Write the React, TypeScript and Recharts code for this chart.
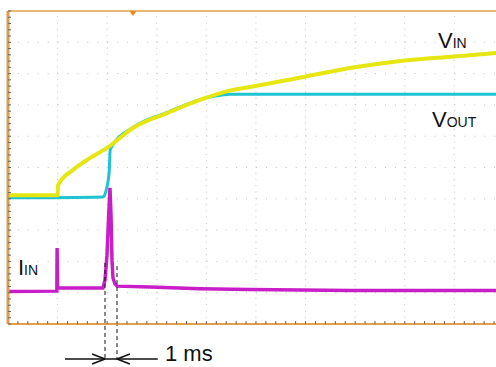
import { ComposedChart, Line, XAxis, YAxis, ReferenceLine, ReferenceDot } from 'recharts';

// time in screen divisions, level in vertical divisions (0 = bottom edge)
const vinTime = [0, 1.0, 1.01, 1.31, 1.65, 2.02, 2.52, 3.21, 3.87, 4.54, 4.88, 6.01, 7.02, 8.0, 9.01, 9.84];
const vinLevel = [4.11, 4.11, 4.44, 4.92, 5.3, 5.65, 6.26, 6.74, 7.16, 7.48, 7.57, 7.91, 8.21, 8.42, 8.55, 8.66];

const voutTime = [0, 1.92, 1.98, 2.04, 2.06, 2.1, 2.52, 3.21, 3.87, 4.17, 4.48, 9.84];
const voutLevel = [4.03, 4.06, 4.28, 4.86, 5.56, 5.69, 6.28, 6.76, 7.17, 7.28, 7.34, 7.34];

const iinTime = [0, 0.985, 0.99, 1.0, 1.915, 1.956, 1.996, 2.026, 2.056, 2.077, 2.097, 2.117, 2.157, 2.198, 2.86, 3.87, 4.88, 6.9, 9.84];
const iinLevel = [1.04, 1.05, 2.43, 1.15, 1.15, 1.41, 2.2, 3.32, 4.35, 3.48, 2.04, 1.47, 1.28, 1.21, 1.18, 1.13, 1.1, 1.07, 1.07];

const gridTime = [1, 2, 3, 4, 5, 6, 7, 8, 9];
const gridLevel = [1, 2, 3, 4, 5, 6, 7, 8, 9];

// 1 ms marker
const markStart = 1.956;
const markEnd = 2.198;

const T_MAX = 9.84;
const minorTime = Array.from({ length: 50 }, (_, i) => +(i * 0.2).toFixed(1));
const minorLevel = Array.from({ length: 51 }, (_, i) => +(i * 0.2).toFixed(1));

const toData = (ts: number[], vs: number[]) => ts.map((t, i) => ({ t, v: vs[i] }));
const vinData = toData(vinTime, vinLevel);
const voutData = toData(voutTime, voutLevel);
const iinData = toData(iinTime, iinLevel);

const FONT = '"Liberation Sans", Arial, sans-serif';
const FRAME = '#E3A048';
const GRID = '#c4c4c4';
const TICK = '#666';

const Name = ({ cx, cy, main, sub }: any) => (
  <text x={cx} y={cy} fontFamily={FONT} fontSize={22} fill="#111">
    {main}
    <tspan fontSize={14}>{sub}</tspan>
  </text>
);

const seg = (x1: number, y1: number, x2: number, y2: number) => [
  { x: x1, y: y1 },
  { x: x2, y: y2 },
];

export default function App() {
  const arrowY = -1.12;
  const headT = 0.26;
  const headL = 0.16;
  return (
    <div style={{ position: 'absolute', left: 0, top: 0, width: 496, height: 367, background: '#fff' }}>
      <ComposedChart width={496} height={367} margin={{ top: 11, right: 0, bottom: 43, left: 8 }}>
        <XAxis
          xAxisId="t"
          type="number"
          dataKey="t"
          domain={[0, T_MAX]}
          allowDataOverflow
          orientation="bottom"
          mirror
          ticks={minorTime}
          interval={0}
          tickFormatter={() => ''}
          tickSize={3}
          tickLine={{ stroke: TICK }}
          axisLine={{ stroke: FRAME, strokeWidth: 2 }}
        />
        <XAxis
          xAxisId="top"
          type="number"
          domain={[0, T_MAX]}
          allowDataOverflow
          orientation="top"
          mirror
          ticks={minorTime}
          interval={0}
          tickFormatter={() => ''}
          tickSize={3}
          tickLine={{ stroke: TICK }}
          axisLine={{ stroke: FRAME, strokeWidth: 1.5 }}
        />
        <YAxis
          yAxisId="v"
          type="number"
          domain={[0, 10]}
          allowDataOverflow
          orientation="left"
          mirror
          ticks={minorLevel}
          interval={0}
          tickFormatter={() => ''}
          tickSize={3}
          tickLine={{ stroke: TICK }}
          axisLine={{ stroke: '#D49E55', strokeWidth: 3 }}
        />

        {gridTime.map((g) => (
          <ReferenceLine key={'gx' + g} xAxisId="t" yAxisId="v" x={g} stroke={GRID} strokeDasharray="1 5.26" />
        ))}
        {gridLevel.map((g) => (
          <ReferenceLine key={'gy' + g} xAxisId="t" yAxisId="v" y={g} stroke={GRID} strokeDasharray="1 8.92" />
        ))}

        <Line xAxisId="t" yAxisId="v" data={iinData} dataKey="v" type="linear" stroke="#C81EC8" strokeWidth={3.5} dot={false} isAnimationActive={false} />
        <Line xAxisId="t" yAxisId="v" data={voutData} dataKey="v" type="monotone" stroke="#1EC4D2" strokeWidth={3} dot={false} isAnimationActive={false} />
        <Line xAxisId="t" yAxisId="v" data={vinData} dataKey="v" type="monotone" stroke="#E6E612" strokeWidth={4} dot={false} isAnimationActive={false} />

        {/* trigger marker */}
        <ReferenceDot
          xAxisId="t"
          yAxisId="v"
          x={2.52}
          y={10}
          ifOverflow="visible"
          shape={(p: any) => (
            <polygon points={`${p.cx - 3.5},${p.cy} ${p.cx + 3.5},${p.cy} ${p.cx},${p.cy + 5}`} fill="#E58A1A" />
          )}
        />

        {/* channel names */}
        <ReferenceDot xAxisId="t" yAxisId="v" x={8.67} y={8.82} ifOverflow="visible" shape={(p: any) => <Name cx={p.cx} cy={p.cy} main="V" sub="IN" />} />
        <ReferenceDot xAxisId="t" yAxisId="v" x={8.55} y={6.29} ifOverflow="visible" shape={(p: any) => <Name cx={p.cx} cy={p.cy} main="V" sub="OUT" />} />
        <ReferenceDot xAxisId="t" yAxisId="v" x={0.2} y={1.57} ifOverflow="visible" shape={(p: any) => <Name cx={p.cx} cy={p.cy} main="I" sub="IN" />} />

        {/* 1 ms width annotation */}
        <ReferenceLine xAxisId="t" yAxisId="v" segment={seg(markStart, 1.95, markStart, -1.15)} ifOverflow="visible" stroke="#111" strokeDasharray="4 3" />
        <ReferenceLine xAxisId="t" yAxisId="v" segment={seg(markEnd, 1.85, markEnd, -1.15)} ifOverflow="visible" stroke="#111" strokeDasharray="4 3" />
        <ReferenceLine xAxisId="t" yAxisId="v" segment={seg(1.15, arrowY, 3.02, arrowY)} ifOverflow="visible" stroke="#111" strokeWidth={1.5} />
        <ReferenceLine xAxisId="t" yAxisId="v" segment={seg(markStart - headT, arrowY + headL, markStart, arrowY)} ifOverflow="visible" stroke="#111" strokeWidth={1.5} />
        <ReferenceLine xAxisId="t" yAxisId="v" segment={seg(markStart - headT, arrowY - headL, markStart, arrowY)} ifOverflow="visible" stroke="#111" strokeWidth={1.5} />
        <ReferenceLine xAxisId="t" yAxisId="v" segment={seg(markEnd + headT, arrowY + headL, markEnd, arrowY)} ifOverflow="visible" stroke="#111" strokeWidth={1.5} />
        <ReferenceLine xAxisId="t" yAxisId="v" segment={seg(markEnd + headT, arrowY - headL, markEnd, arrowY)} ifOverflow="visible" stroke="#111" strokeWidth={1.5} />
        <ReferenceDot
          xAxisId="t"
          yAxisId="v"
          x={3.165}
          y={-1.19}
          ifOverflow="visible"
          shape={(p: any) => (
            <text x={p.cx} y={p.cy} fontFamily={FONT} fontSize={22} fill="#111">
              1 ms
            </text>
          )}
        />
      </ComposedChart>
    </div>
  );
}
